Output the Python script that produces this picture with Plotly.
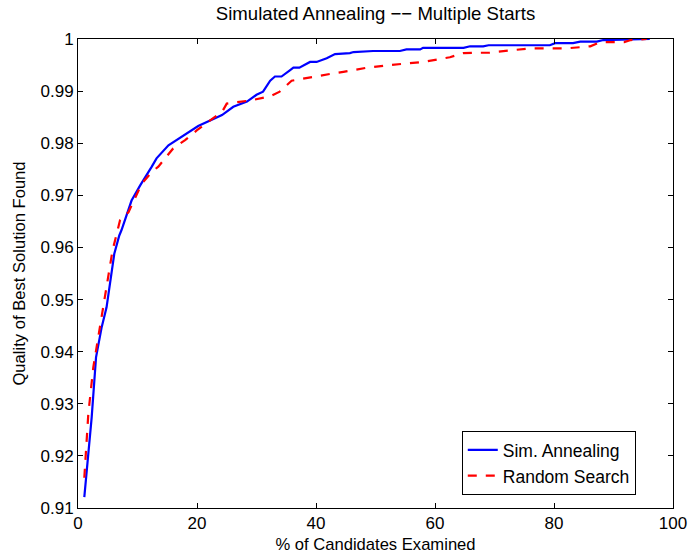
import plotly.graph_objects as go

# Sim. Annealing curve
sa_x = [1.06, 2.3, 3.03, 3.98, 4.8, 5.66, 6.1, 6.94, 7.3, 9.0, 10.5, 12.4, 13.2, 15.2, 18.3, 20.2,
        24.2, 26.1, 28.4, 30.0, 31.1, 32.3, 33.1, 34.2, 35.6, 36.2, 37.2, 39.0, 40.1, 41.8, 43.2,
        45.7, 46.3, 49.6, 54.1, 55.2, 57.5, 58.0, 64.8, 65.9, 68.1, 69.0, 79.3, 80.2, 83.2, 84.4,
        87.2, 88.3, 96.1]
sa_y = [0.9121, 0.9274, 0.9389, 0.9447, 0.9485, 0.9553, 0.9588, 0.9623, 0.9633, 0.9690, 0.9720,
        0.9755, 0.9771, 0.9796, 0.9820, 0.9833, 0.9854, 0.9870, 0.9880, 0.9893, 0.9899, 0.9920,
        0.9928, 0.9928, 0.9940, 0.9945, 0.9945, 0.9956, 0.9956, 0.9963, 0.9971, 0.9973, 0.9975,
        0.9977, 0.9977, 0.9980, 0.9980, 0.9983, 0.9983, 0.9986, 0.9986, 0.9988, 0.9988, 0.9992,
        0.9992, 0.9995, 0.9995, 0.9998, 1.0]

# Random Search curve
rs_x = [1.06, 1.73, 2.57, 3.4, 4.25, 5.1, 5.8, 7.06, 8.5, 10.7, 12.4, 13.5, 14.9, 16.0, 18.0,
        20.0, 22.2, 24.2, 25.0, 26.7, 28.9, 32.3, 33.9, 35.9, 38.7, 42.4, 44.6, 48.6, 52.4, 58.0,
        62.5, 64.8, 69.2, 73.1, 76.0, 82.1, 86.1, 87.8, 91.8, 92.9, 95.6]
rs_y = [0.9158, 0.9280, 0.9370, 0.9428, 0.9485, 0.9550, 0.9594, 0.9652, 0.9668, 0.9722, 0.9745,
        0.9755, 0.9774, 0.9790, 0.9806, 0.9825, 0.9844, 0.9860, 0.9876, 0.9879, 0.9882, 0.9890,
        0.9899, 0.9920, 0.9926, 0.9933, 0.9937, 0.9945, 0.9950, 0.9956, 0.9965, 0.9973, 0.9974,
        0.9979, 0.9982, 0.9982, 0.9986, 0.9994, 0.9994, 0.9998, 1.0]

x_ticks = [0, 20, 40, 60, 80, 100]
y_ticks = [0.91, 0.92, 0.93, 0.94, 0.95, 0.96, 0.97, 0.98, 0.99, 1]
y_labels = ["0.91", "0.92", "0.93", "0.94", "0.95", "0.96", "0.97", "0.98", "0.99", "1"]

fig = go.Figure()
fig.add_trace(go.Scatter(x=sa_x, y=sa_y, mode="lines", name="Sim. Annealing",
                         line=dict(color="#0000ff", width=2.2)))
fig.add_trace(go.Scatter(x=rs_x, y=rs_y, mode="lines", name="Random Search",
                         line=dict(color="#ff0000", width=2.2, dash="dash")))

axis_common = dict(showgrid=False, zeroline=False, showline=True, linecolor="black",
                   linewidth=1, mirror="allticks", ticks="inside", ticklen=5,
                   tickcolor="black", tickfont=dict(size=17, color="black"),
                   automargin=False)

fig.update_layout(
    width=689, height=554,
    margin=dict(l=78, r=16, t=39, b=46),
    paper_bgcolor="white", plot_bgcolor="white",
    font=dict(family="Liberation Sans, Arial, sans-serif", color="black"),
    title=dict(text="Simulated Annealing \u2212\u2212 Multiple Starts", x=0.5, xref="paper",
               xanchor="center", y=0.976, yanchor="middle", font=dict(size=18.6)),
    xaxis=dict(range=[0, 100], tickvals=x_ticks, **axis_common,
               title=dict(text="% of Candidates Examined", font=dict(size=16.6), standoff=6)),
    yaxis=dict(range=[0.91, 1.0], tickvals=y_ticks, ticktext=y_labels, **axis_common,
               title=dict(text="Quality of Best Solution Found", font=dict(size=16.6), standoff=10)),
    legend=dict(x=0.645, y=0.164, xanchor="left", yanchor="top",
                bordercolor="black", borderwidth=1, bgcolor="white",
                font=dict(size=17.5), tracegroupgap=0),
    showlegend=True,
)

# drop the default 8px body margin so the figure sits at the window's corner
fig.write_html("out.html", config={"displayModeBar": False},
               post_script="document.body.style.margin='0';")
